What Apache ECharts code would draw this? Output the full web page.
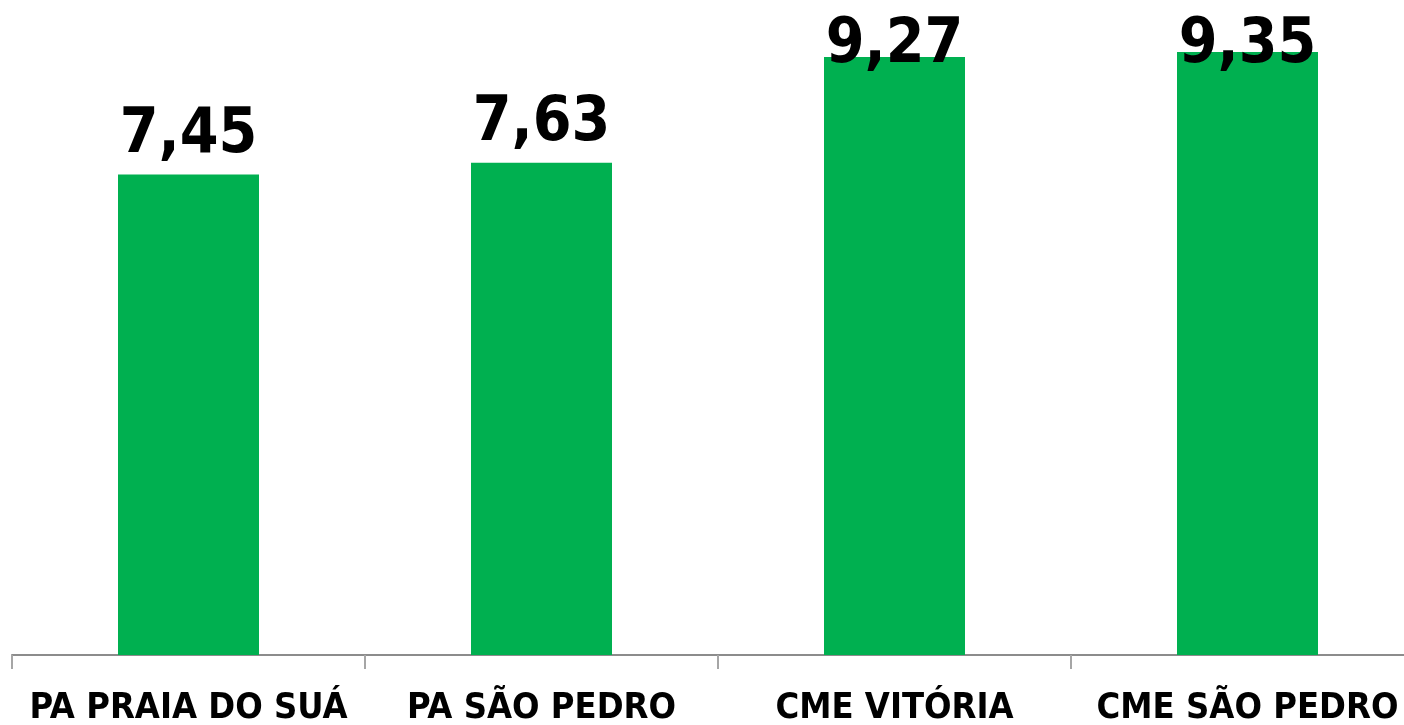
<!DOCTYPE html>
<html lang="pt">
<head>
    <meta charset="UTF-8">
    <title>Notas</title>
    <script src="https://cdn.jsdelivr.net/npm/echarts@6/dist/echarts.min.js"></script>
    <style>
        *{
            margin: 0;
            padding: 0;
        }
        body{
            background: #fff;
            overflow: hidden;
        }
        .container{
            width: 1404px;
            height: 725px;
        }
    </style>
</head>
<body>
<div class="container"></div>
<script>
    // dados
    let categorias = ['PA PRAIA DO SUÁ', 'PA SÃO PEDRO', 'CME VITÓRIA', 'CME SÃO PEDRO'];
    let notas = [7.45, 7.63, 9.27, 9.35];
    // rótulos empurrados para dentro da área (como no original)
    let deslocamento = [0, 0, 28, 33];

    let fonte = '"DejaVu Sans Condensed", "Liberation Sans Narrow", sans-serif';

    let container = document.querySelector('.container');
    let mycharts = echarts.init(container);

    let dados = notas.map((v, i) => ({
        value: v,
        label: {offset: [0, deslocamento[i]]}
    }));

    let options = {
        animation: false,
        grid: {
            left: 12,
            width: 1412,
            top: 10,
            bottom: 70,
            outerBoundsMode: 'none',
            containLabel: false
        },
        xAxis: {
            type: 'category',
            data: categorias,
            axisLine: {
                lineStyle: {color: '#8c8c8c', width: 2}
            },
            axisTick: {
                show: true,
                length: 14,
                lineStyle: {color: '#a6a6a6', width: 2}
            },
            axisLabel: {
                interval: 0,
                margin: 36,
                color: '#000',
                fontFamily: fonte,
                fontWeight: 'bold',
                fontSize: 36,
                lineHeight: 36
            }
        },
        yAxis: {
            type: 'value',
            min: 0,
            max: 10,
            show: false,
            splitLine: {show: false}
        },
        series: [{
            type: 'bar',
            data: dados,
            barWidth: 141,
            itemStyle: {color: '#00b050'},
            label: {
                show: true,
                position: 'top',
                distance: 8,
                color: '#000',
                fontFamily: fonte,
                fontWeight: 'bold',
                fontSize: 62,
                lineHeight: 62,
                formatter: function (p) {
                    return p.value.toFixed(2).replace('.', ',');
                }
            }
        }]
    };

    mycharts.setOption(options);
</script>
</body>
</html>
